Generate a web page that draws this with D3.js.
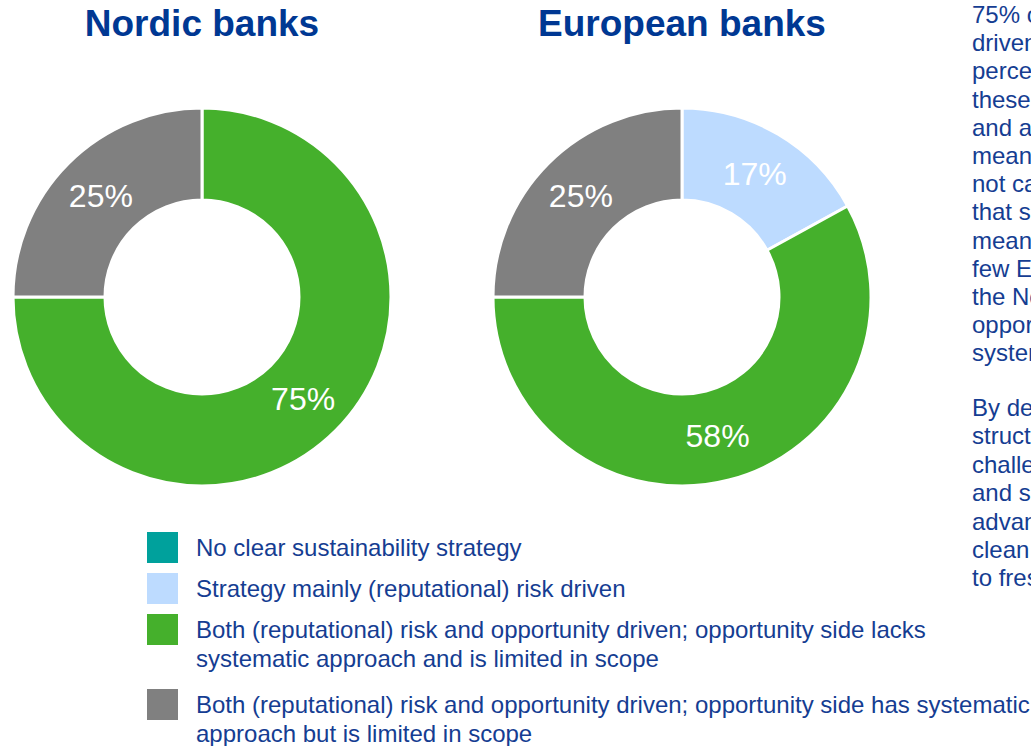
<!DOCTYPE html>
<html>
<head>
<meta charset="utf-8">
<script src="https://cdn.jsdelivr.net/npm/d3@7"></script>
<style>
  html, body { margin: 0; padding: 0; background: #fff; overflow: hidden; }
  svg { display: block; font-family: "Liberation Sans", Arial, sans-serif; }
</style>
</head>
<body>
<svg id="chart" width="1031" height="746"></svg>
<script>
// Strategy categories (legend order)
const categories = [
  "No clear sustainability strategy",
  "Strategy mainly (reputational) risk driven",
  "Both (reputational) risk and opportunity driven; opportunity side lacks systematic approach and is limited in scope",
  "Both (reputational) risk and opportunity driven; opportunity side has systematic approach but is limited in scope"
];
const legendLines = [
  ["No clear sustainability strategy"],
  ["Strategy mainly (reputational) risk driven"],
  ["Both (reputational) risk and opportunity driven; opportunity side lacks", "systematic approach and is limited in scope"],
  ["Both (reputational) risk and opportunity driven; opportunity side has systematic", "approach but is limited in scope"]
];
const colors = ["#00A19C", "#BDDBFF", "#45B02C", "#808080"];

// Share of banks per category, in percent
const groups = ["Nordic banks", "European banks"];
const nordicValues = [0, 0, 75, 25];
const europeanValues = [0, 17, 58, 25];

// Commentary column at the right edge
const notesPara1 = ["75% of", "driven", "percentage", "these", "and a", "means", "not capture",
  "that speaks", "means", "few European", "the Nordic", "opportunity", "systematic"];
const notesPara2 = ["By design", "structure", "challenges", "and so", "advantage", "clean", "to fresh"];

const svg = d3.select("#chart");
const titleColor = "#003893";
const textColor = "#153D92";

const color = d3.scaleOrdinal().domain(categories).range(colors);

const outerR = 189, innerR = 97;
const centers = [[202, 297], [682, 297]];

const pie = d3.pie().sort(null).value(d => d.value);
const arc = d3.arc().innerRadius(innerR).outerRadius(outerR);
const labelArc = d3.arc().innerRadius((innerR + outerR) / 2).outerRadius((innerR + outerR) / 2);

[nordicValues, europeanValues].forEach((vals, gi) => {
  const data = categories.map((c, i) => ({ cat: c, value: vals[i] }));
  const g = svg.append("g").attr("transform", `translate(${centers[gi][0]},${centers[gi][1]})`);

  g.append("text")
    .attr("x", 0).attr("y", 36 - centers[gi][1])
    .attr("text-anchor", "middle")
    .attr("font-size", 37).attr("font-weight", "bold")
    .attr("fill", titleColor)
    .text(groups[gi]);

  const arcs = pie(data).filter(d => d.data.value > 0);

  g.selectAll("path.slice").data(arcs).enter().append("path")
    .attr("class", "slice")
    .attr("d", arc)
    .attr("fill", d => color(d.data.cat))
    .attr("stroke", "#fff").attr("stroke-width", 3);

  g.selectAll("text.val").data(arcs).enter().append("text")
    .attr("class", "val")
    .attr("transform", d => `translate(${labelArc.centroid(d)})`)
    .attr("text-anchor", "middle")
    .attr("dy", "0.36em")
    .attr("font-size", 32)
    .attr("fill", "#fff")
    .text(d => d.data.value + "%");
});

// Legend
const legendY = [532, 573, 614, 689];
const legend = svg.append("g");
categories.forEach((c, i) => {
  legend.append("rect")
    .attr("x", 147).attr("y", legendY[i])
    .attr("width", 31).attr("height", 31)
    .attr("fill", color(c));
  const t = legend.append("text")
    .attr("x", 196).attr("y", legendY[i] + 24)
    .attr("font-size", 24).attr("fill", textColor);
  legendLines[i].forEach((line, li) => {
    t.append("tspan").attr("x", 196).attr("dy", li === 0 ? 0 : 29).text(line);
  });
});

// Commentary column
const notes = svg.append("g").attr("font-size", 24).attr("fill", textColor);
notesPara1.forEach((s, i) => {
  notes.append("text").attr("x", 972).attr("y", 23 + i * 28.2).text(s);
});
notesPara2.forEach((s, i) => {
  notes.append("text").attr("x", 972).attr("y", 416 + i * 28.4).text(s);
});
</script>
</body>
</html>
